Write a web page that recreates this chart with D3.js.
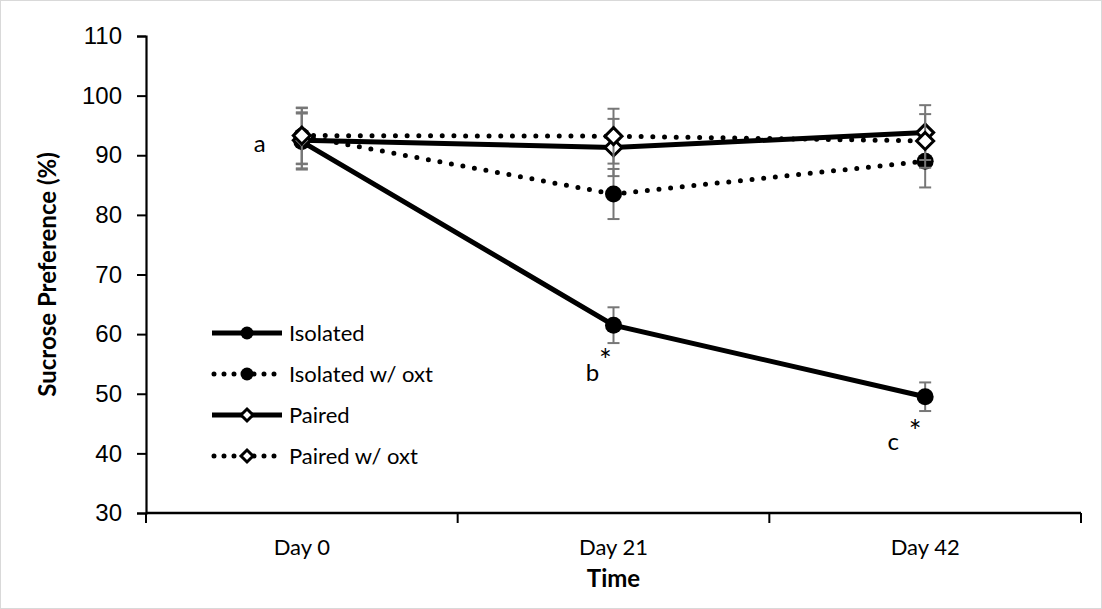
<!DOCTYPE html>
<html>
<head>
<meta charset="utf-8">
<script src="https://cdn.jsdelivr.net/npm/d3@7"></script>
<style>
  body { margin: 0; background: #fff; }
  svg { font-family: Lato, "Open Sans", sans-serif; }
</style>
</head>
<body>
<svg id="chart" width="1102" height="609"></svg>
<script>
// categories and series
var days = ["Day 0", "Day 21", "Day 42"];
var yTicks = [30, 40, 50, 60, 70, 80, 90, 100, 110];

var isolated      = [92.3, 61.5, 49.5];
var isolatedErr   = [4.7, 3.0, 2.4];
var isolatedOxt   = [93.2, 83.5, 89.0];
var isolatedOxtErr= [4.7, 4.2, 4.4];
var paired        = [92.5, 91.3, 93.8];
var pairedErr     = [4.7, 4.8, 4.6];
var pairedOxt     = [93.3, 93.2, 92.4];
var pairedOxtErr  = [4.7, 4.6, 4.5];

var seriesNames = ["Isolated", "Isolated w/ oxt", "Paired", "Paired w/ oxt"];

var series = [
  {name: seriesNames[0], values: isolated,    err: isolatedErr,    dotted: false, marker: "circle"},
  {name: seriesNames[1], values: isolatedOxt, err: isolatedOxtErr, dotted: true,  marker: "circle"},
  {name: seriesNames[2], values: paired,      err: pairedErr,      dotted: false, marker: "diamond"},
  {name: seriesNames[3], values: pairedOxt,   err: pairedOxtErr,   dotted: true,  marker: "diamond"}
];

var svg = d3.select("#chart");
var width = 1102, height = 609;
var margin = {left: 146, right: 21, top: 36, bottom: 96};

svg.append("rect")
    .attr("x", 0.5).attr("y", 0.5)
    .attr("width", width - 1).attr("height", height - 1)
    .attr("fill", "#fff").attr("stroke", "#d9d9d9");

var x = d3.scaleBand()
    .domain(days)
    .range([margin.left, width - margin.right]);

var y = d3.scaleLinear()
    .domain([30, 110])
    .range([height - margin.bottom, margin.top]);

var cx = function(i) { return x(days[i]) + x.bandwidth() / 2; };

// y axis
var yAxis = svg.append("g")
    .attr("transform", "translate(" + margin.left + ",0)")
    .call(d3.axisLeft(y).tickValues(yTicks).tickSize(9).tickPadding(15));
yAxis.select(".domain").attr("stroke", "#000").attr("stroke-width", 2.2);
yAxis.selectAll(".tick line").attr("stroke", "#000").attr("stroke-width", 2);
yAxis.selectAll(".tick text").attr("font-size", 24).attr("fill", "#000");

// x axis, ticks between categories like Excel
var xAxis = svg.append("g")
    .attr("transform", "translate(0," + y(30) + ")");
xAxis.append("line")
    .attr("x1", margin.left).attr("x2", width - margin.right)
    .attr("stroke", "#000").attr("stroke-width", 2.5);
var edges = days.map(function(d) { return x(d); }).concat([x(days[days.length - 1]) + x.bandwidth()]);
xAxis.selectAll(".xt").data(edges).enter().append("line")
    .attr("x1", function(d) { return d; }).attr("x2", function(d) { return d; })
    .attr("y1", 0).attr("y2", 10)
    .attr("stroke", "#000").attr("stroke-width", 2);
xAxis.selectAll(".xl").data(days).enter().append("text")
    .attr("x", function(d) { return x(d) + x.bandwidth() / 2; })
    .attr("y", 42)
    .attr("text-anchor", "middle")
    .attr("font-size", 22)
    .text(function(d) { return d; });

// axis titles
svg.append("text")
    .attr("x", cx(1)).attr("y", 587)
    .attr("text-anchor", "middle")
    .attr("font-size", 24).attr("font-weight", "bold")
    .text("Time");
svg.append("text")
    .attr("transform", "translate(56," + y(70) + ") rotate(-90)")
    .attr("text-anchor", "middle")
    .attr("font-size", 24).attr("font-weight", "bold")
    .text("Sucrose Preference (%)");

var line = d3.line()
    .x(function(d, i) { return cx(i); })
    .y(function(d) { return y(d); });

var diamond = function(s) {
  return "M0," + (-s) + "L" + s + ",0L0," + s + "L" + (-s) + ",0Z";
};

function styleLine(sel, dotted) {
  sel.attr("fill", "none").attr("stroke", "#000").attr("stroke-width", 5);
  if (dotted) {
    sel.attr("stroke-linecap", "round").attr("stroke-dasharray", "0 11.7");
  }
}

function drawMarker(g, kind, size) {
  if (kind === "circle") {
    g.append("circle").attr("r", size).attr("fill", "#000");
  } else {
    g.append("path").attr("d", diamond(size))
      .attr("fill", "#fff").attr("stroke", "#000").attr("stroke-width", 3);
  }
}

series.forEach(function(s) {
  var g = svg.append("g");
  // error bars
  s.values.forEach(function(v, i) {
    var e = g.append("g").attr("stroke", "#777").attr("stroke-width", 2);
    e.append("line").attr("x1", cx(i)).attr("x2", cx(i))
      .attr("y1", y(v - s.err[i])).attr("y2", y(v + s.err[i]));
    [v - s.err[i], v + s.err[i]].forEach(function(t) {
      e.append("line").attr("x1", cx(i) - 6).attr("x2", cx(i) + 6)
        .attr("y1", y(t)).attr("y2", y(t));
    });
  });
  g.append("path").datum(s.values).attr("d", line).call(styleLine, s.dotted);
  s.values.forEach(function(v, i) {
    var m = g.append("g").attr("transform", "translate(" + cx(i) + "," + y(v) + ")");
    drawMarker(m, s.marker, 8.5);
  });
});

// legend
var legend = svg.append("g").attr("transform", "translate(212,333)");
series.forEach(function(s, i) {
  var row = legend.append("g").attr("transform", "translate(0," + (i * 41) + ")");
  row.append("line").attr("x1", s.dotted ? 2 : 0).attr("x2", s.dotted ? 64 : 70)
    .attr("y1", 0).attr("y2", 0)
    .call(styleLine, s.dotted);
  if (s.dotted) row.select("line").attr("stroke-dasharray", "0 10");
  var m = row.append("g").attr("transform", "translate(35,0)");
  drawMarker(m, s.marker, s.marker === "circle" ? 6.5 : 6);
  row.append("text").attr("x", 77).attr("y", 8)
    .attr("font-size", 22).text(s.name);
});

// significance labels
var notes = [
  {t: "a", x: cx(0) - 42, y: y(92.5) + 12},
  {t: "b", x: cx(1) - 21, y: y(isolated[1]) + 56},
  {t: "*", x: cx(1) - 8,  y: y(isolated[1]) + 46},
  {t: "c", x: cx(2) - 32, y: y(isolated[2]) + 53},
  {t: "*", x: cx(2) - 10, y: y(isolated[2]) + 45}
];
svg.selectAll(".note").data(notes).enter().append("text")
  .attr("x", function(d) { return d.x; })
  .attr("y", function(d) { return d.y; })
  .attr("text-anchor", "middle")
  .attr("font-size", function(d) { return d.t === "*" ? 30 : 24; })
  .text(function(d) { return d.t; });
</script>
</body>
</html>
